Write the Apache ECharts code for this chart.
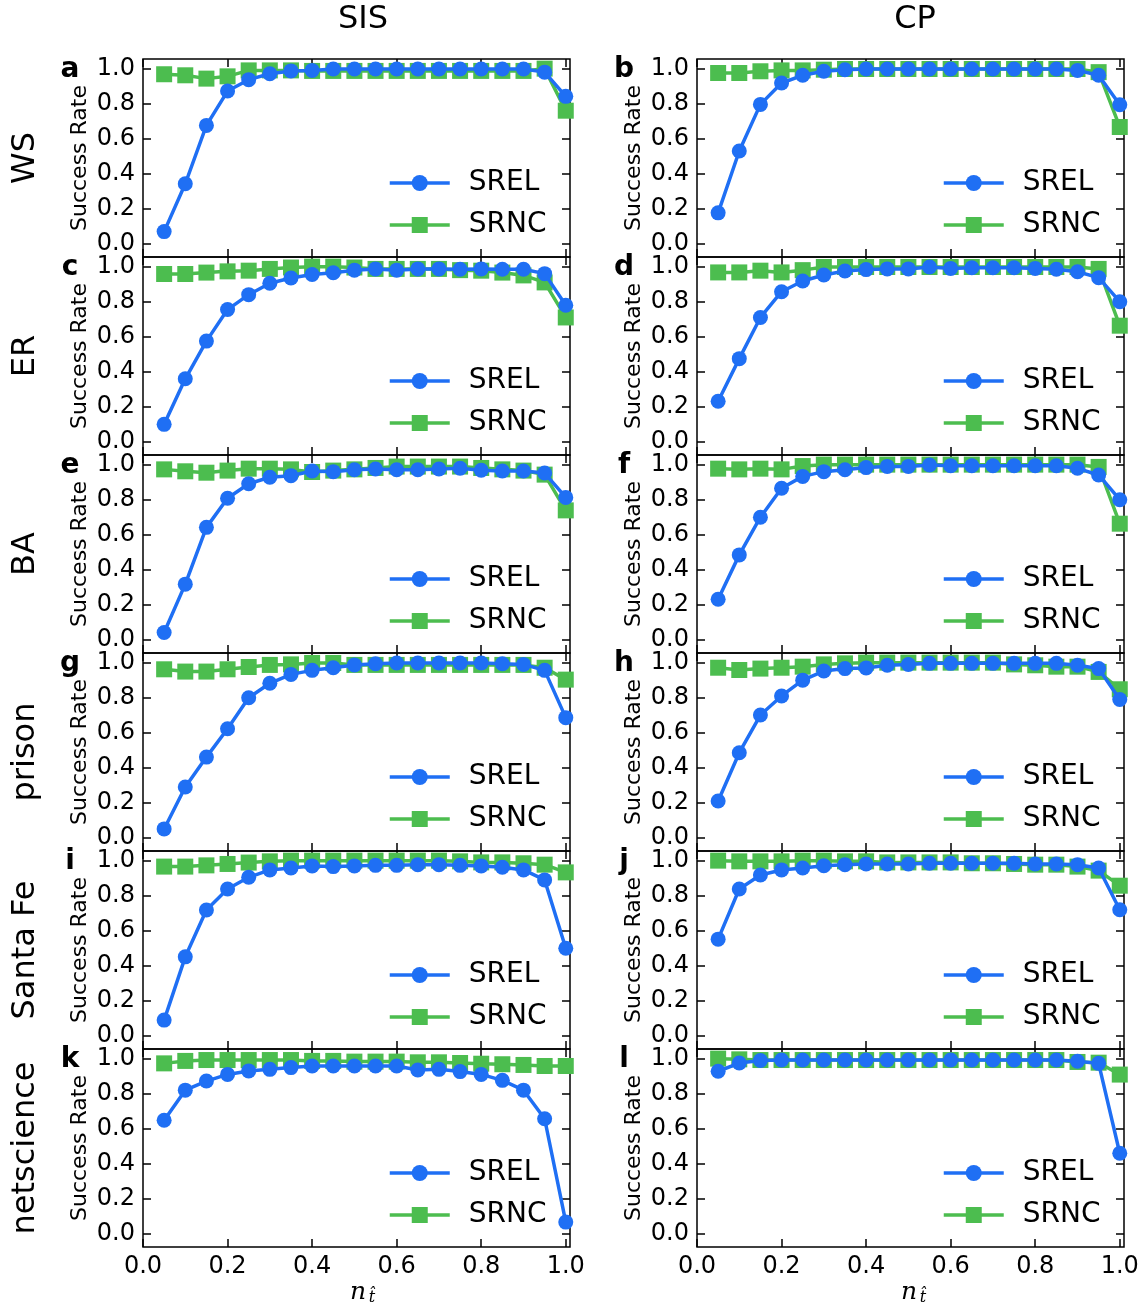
<!DOCTYPE html>
<html><head><meta charset="utf-8">
<script src="https://cdn.jsdelivr.net/npm/echarts@6/dist/echarts.min.js"></script>
<style>html,body{margin:0;padding:0;background:#fff}#c{width:1145px;height:1311px}</style>
</head><body><div id="c"></div>
<script>
const xValues = [0.05,0.10,0.15,0.20,0.25,0.30,0.35,0.40,0.45,0.50,0.55,0.60,0.65,0.70,0.75,0.80,0.85,0.90,0.95,1.00];
const xTicks = [0,0.2,0.4,0.6,0.8,1.0];
const yTicks = [0,0.2,0.4,0.6,0.8,1.0];
const columns = ['SIS','CP'];
const rowNames = ['WS','ER','BA','prison','Santa Fe','netscience'];
const letters = ['a','b','c','d','e','f','g','h','i','j','k','l'];
const seriesNames = ['SREL','SRNC'];

const SIS_WS_SREL = [0.07,0.343,0.676,0.872,0.937,0.971,0.987,0.99,0.998,0.998,0.998,0.998,0.998,0.998,0.998,0.998,0.998,0.998,0.98,0.842];
const SIS_WS_SRNC = [0.968,0.962,0.943,0.956,0.99,0.99,0.99,0.987,0.987,0.987,0.987,0.987,0.987,0.987,0.987,0.987,0.987,0.987,1.0,0.76];
const CP_WS_SREL = [0.177,0.53,0.796,0.918,0.962,0.985,0.994,0.998,0.998,0.998,0.998,0.998,0.998,0.998,0.998,0.998,0.998,0.99,0.962,0.794];
const CP_WS_SRNC = [0.975,0.975,0.985,0.99,0.99,0.994,0.998,0.998,0.998,0.998,0.998,0.998,0.998,0.998,0.998,0.998,0.998,0.998,0.98,0.667];
const SIS_ER_SREL = [0.10,0.36,0.575,0.755,0.84,0.905,0.935,0.955,0.965,0.98,0.987,0.98,0.987,0.987,0.985,0.987,0.985,0.985,0.96,0.78];
const SIS_ER_SRNC = [0.958,0.958,0.966,0.973,0.977,0.987,0.995,1.0,1.0,0.995,0.987,0.987,0.987,0.987,0.98,0.977,0.966,0.95,0.91,0.71];
const CP_ER_SREL = [0.232,0.475,0.71,0.857,0.918,0.952,0.975,0.983,0.987,0.987,0.998,0.99,0.994,0.994,0.994,0.99,0.985,0.971,0.937,0.80];
const CP_ER_SRNC = [0.967,0.967,0.977,0.967,0.98,0.998,0.998,0.998,0.998,0.998,0.998,0.998,0.998,0.998,0.998,0.998,0.998,0.998,0.987,0.663];
const SIS_BA_SREL = [0.042,0.318,0.642,0.808,0.891,0.928,0.937,0.964,0.96,0.971,0.975,0.971,0.971,0.975,0.979,0.968,0.964,0.964,0.952,0.813];
const SIS_BA_SRNC = [0.973,0.962,0.954,0.966,0.977,0.977,0.973,0.958,0.966,0.973,0.981,0.989,0.989,0.989,0.989,0.981,0.973,0.966,0.943,0.739];
const CP_BA_SREL = [0.232,0.485,0.70,0.865,0.933,0.96,0.971,0.983,0.99,0.99,0.998,0.994,0.994,0.994,0.994,0.994,0.994,0.979,0.941,0.80];
const CP_BA_SRNC = [0.977,0.973,0.977,0.973,0.992,1.0,1.0,1.0,1.0,1.0,1.0,1.0,1.0,1.0,1.0,1.0,1.0,1.0,0.987,0.663];
const SIS_prison_SREL = [0.051,0.29,0.461,0.623,0.80,0.882,0.933,0.956,0.971,0.987,0.994,0.998,0.998,0.998,0.998,0.998,0.994,0.99,0.956,0.686];
const SIS_prison_SRNC = [0.962,0.949,0.949,0.962,0.975,0.987,0.99,0.998,0.998,0.987,0.987,0.987,0.987,0.987,0.987,0.987,0.987,0.987,0.971,0.903];
const CP_prison_SREL = [0.21,0.486,0.701,0.81,0.90,0.952,0.966,0.97,0.985,0.989,0.996,0.996,0.996,0.996,0.996,0.996,0.996,0.985,0.966,0.79];
const CP_prison_SRNC = [0.971,0.958,0.966,0.971,0.977,0.99,0.996,1.0,1.0,1.0,1.0,1.0,1.0,1.0,0.99,0.985,0.977,0.977,0.947,0.848];
const SIS_SantaFe_SREL = [0.09,0.451,0.718,0.838,0.905,0.947,0.958,0.97,0.966,0.97,0.973,0.973,0.977,0.977,0.973,0.97,0.962,0.947,0.89,0.50];
const SIS_SantaFe_SRNC = [0.966,0.966,0.973,0.981,0.989,0.996,1.0,1.0,1.0,1.0,1.0,1.0,1.0,1.0,0.996,0.99,0.99,0.985,0.977,0.933];
const CP_SantaFe_SREL = [0.552,0.838,0.918,0.947,0.958,0.971,0.977,0.981,0.981,0.981,0.985,0.985,0.985,0.985,0.985,0.981,0.981,0.977,0.958,0.72];
const CP_SantaFe_SRNC = [1.0,0.996,0.996,0.996,1.0,1.0,0.996,0.996,0.99,0.99,0.99,0.99,0.985,0.985,0.981,0.977,0.977,0.966,0.943,0.857];
const SIS_netscience_SREL = [0.648,0.82,0.872,0.91,0.93,0.939,0.949,0.958,0.958,0.958,0.958,0.958,0.935,0.939,0.926,0.91,0.876,0.82,0.657,0.067];
const SIS_netscience_SRNC = [0.973,0.987,0.992,0.992,0.992,0.992,0.992,0.987,0.987,0.983,0.983,0.983,0.979,0.979,0.975,0.971,0.968,0.964,0.958,0.958];
const CP_netscience_SREL = [0.928,0.975,0.989,0.992,0.992,0.992,0.992,0.992,0.992,0.992,0.992,0.992,0.992,0.992,0.992,0.992,0.992,0.985,0.973,0.46];
const CP_netscience_SRNC = [1.0,0.996,0.992,0.992,0.992,0.992,0.992,0.992,0.992,0.992,0.992,0.992,0.992,0.992,0.992,0.992,0.992,0.981,0.977,0.909];

const panels = [
  [SIS_WS_SREL, SIS_WS_SRNC], [CP_WS_SREL, CP_WS_SRNC],
  [SIS_ER_SREL, SIS_ER_SRNC], [CP_ER_SREL, CP_ER_SRNC],
  [SIS_BA_SREL, SIS_BA_SRNC], [CP_BA_SREL, CP_BA_SRNC],
  [SIS_prison_SREL, SIS_prison_SRNC], [CP_prison_SREL, CP_prison_SRNC],
  [SIS_SantaFe_SREL, SIS_SantaFe_SRNC], [CP_SantaFe_SREL, CP_SantaFe_SRNC],
  [SIS_netscience_SREL, SIS_netscience_SRNC], [CP_netscience_SREL, CP_netscience_SRNC]
];

const FONT = 'DejaVu Sans';
const BLUE = '#1f6ff4';
const GREEN = '#4cbd4f';
const colLeft = [143, 697];
const gridW = 427;
const rowTop0 = 59, rowH = 198;

const grid = [], xAxis = [], yAxis = [], series = [], legend = [], graphic = [];

panels.forEach((p, k) => {
  const r = Math.floor(k / 2), c = k % 2;
  const left = colLeft[c], top = rowTop0 + r * rowH;
  grid.push({left: left, top: top, width: gridW, height: rowH, show: true,
    borderColor: '#000', borderWidth: 1.5, backgroundColor: 'transparent', containLabel: false});
  const tick = {show: true, inside: true, length: 8, lineStyle: {color: '#000', width: 1.5}};
  const line = {show: false, onZero: false};
  const bottomRow = r === rowNames.length - 1;
  xAxis.push({type: 'value', gridIndex: k, min: 0, max: 1.01, position: 'bottom',
    axisLine: line, splitLine: {show: false},
    axisTick: Object.assign({customValues: xTicks}, tick),
    axisLabel: {show: bottomRow, customValues: xTicks, formatter: v => v.toFixed(1),
      fontFamily: FONT, fontSize: 24, color: '#000', margin: 8}});
  xAxis.push({type: 'value', gridIndex: k, min: 0, max: 1.01, position: 'top',
    axisLine: line, splitLine: {show: false},
    axisTick: Object.assign({customValues: xTicks}, tick), axisLabel: {show: false}});
  yAxis.push({type: 'value', gridIndex: k, min: -0.075, max: 1.055, position: 'left',
    axisLine: line, splitLine: {show: false},
    axisTick: Object.assign({customValues: yTicks}, tick),
    axisLabel: {customValues: yTicks, formatter: v => v.toFixed(1),
      fontFamily: FONT, fontSize: 24, color: '#000', margin: 8},
    name: 'Success Rate', nameLocation: 'middle', nameGap: 52,
    nameTextStyle: {fontFamily: FONT, fontSize: 22, color: '#000'}});
  yAxis.push({type: 'value', gridIndex: k, min: -0.075, max: 1.055, position: 'right',
    axisLine: line, splitLine: {show: false},
    axisTick: Object.assign({customValues: yTicks}, tick), axisLabel: {show: false}});

  const [srel, srnc] = p;
  series.push({type: 'line', name: 'SRNC', xAxisIndex: 2 * k, yAxisIndex: 2 * k,
    data: xValues.map((x, i) => [x, srnc[i]]),
    symbol: 'rect', symbolSize: 16, color: GREEN,
    lineStyle: {width: 3.5, color: GREEN}, itemStyle: {color: GREEN}, z: 2});
  series.push({type: 'line', name: 'SREL', xAxisIndex: 2 * k, yAxisIndex: 2 * k,
    data: xValues.map((x, i) => [x, srel[i]]),
    symbol: 'circle', symbolSize: 15, color: BLUE,
    lineStyle: {width: 3.5, color: BLUE}, itemStyle: {color: BLUE}, z: 3});

  legend.push({data: seriesNames, orient: 'vertical', left: left + 245, top: top + 110,
    padding: 0, itemWidth: 60, itemHeight: 20, itemGap: 14,
    lineStyle: {width: 3.5},
    textStyle: {fontFamily: FONT, fontSize: 28, color: '#000', padding: [0, 0, 0, 14]},
    selectedMode: false});

  graphic.push({type: 'text', x: left - 73, y: top + 11,
    style: {text: letters[k], font: 'bold 28px "DejaVu Sans"', fill: '#000',
      align: 'center', verticalAlign: 'middle'}});

  if (c === 0) {
    graphic.push({type: 'text', x: 26, y: top + rowH / 2, rotation: Math.PI / 2,
      style: {text: rowNames[r], font: '32px "DejaVu Sans"', fill: '#000',
        align: 'center', verticalAlign: 'middle'}});
  }
  if (r === 0) {
    graphic.push({type: 'text', x: c === 0 ? 363 : 915, y: 20,
      style: {text: columns[c], font: '32px "DejaVu Sans"', fill: '#000',
        align: 'center', verticalAlign: 'middle'}});
  }
  if (bottomRow) {
    const cx = c === 0 ? 362 : 913;
    graphic.push({type: 'text', x: cx - 4, y: 1292,
      style: {text: 'n', font: 'italic 25px "DejaVu Serif"', fill: '#000',
        align: 'center', verticalAlign: 'middle'}});
    graphic.push({type: 'text', x: cx + 10, y: 1298,
      style: {text: 't\u0302', font: 'italic 16px "DejaVu Serif"', fill: '#000',
        align: 'center', verticalAlign: 'middle'}});
  }
});

const chart = echarts.init(document.getElementById('c'), null, {renderer: 'canvas'});
chart.setOption({animation: false, backgroundColor: '#fff', grid, xAxis, yAxis, series, legend, graphic});
</script></body></html>
